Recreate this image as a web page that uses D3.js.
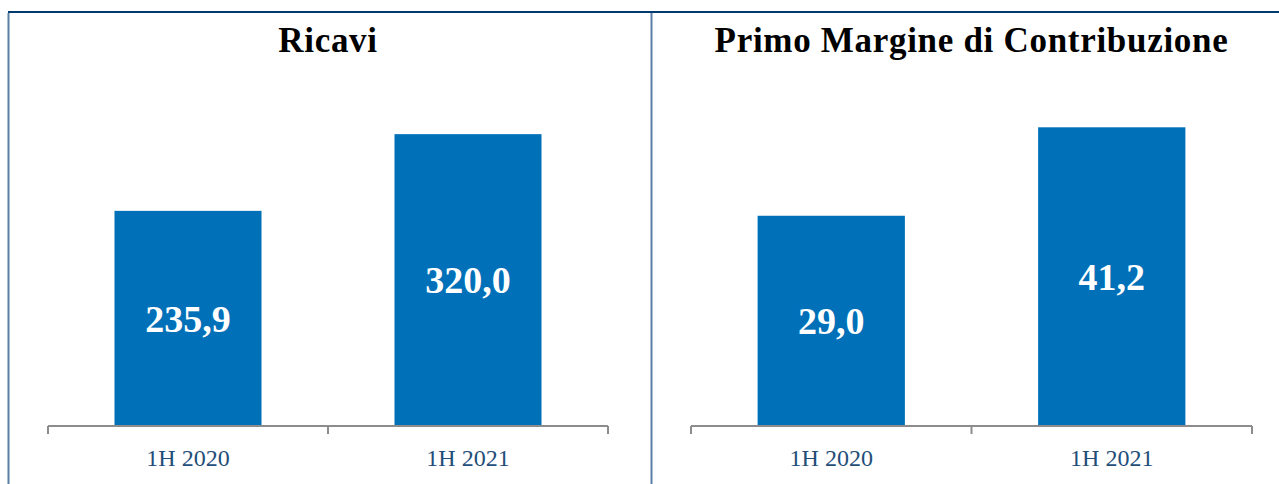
<!DOCTYPE html>
<html>
<head>
<meta charset="utf-8">
<script src="https://cdn.jsdelivr.net/npm/d3@7"></script>
<style>
  html, body { margin: 0; padding: 0; background: #fff; }
  svg { display: block; }
</style>
</head>
<body>
<div id="chart"></div>
<script>
// chart data
const categories = ["1H 2020", "1H 2021"];
const ricaviValues = [235.9, 320.0];
const margineValues = [29.0, 41.2];
const panelTitles = ["Ricavi", "Primo Margine di Contribuzione"];

const W = 1279, H = 484;
const barColor = "#0070b8";
const fmt = v => v.toFixed(1).replace(".", ",");

const svg = d3.select("#chart").append("svg")
  .attr("width", W)
  .attr("height", H);

// frame lines
svg.append("line")
  .attr("x1", 8).attr("x2", W).attr("y1", 12).attr("y2", 12)
  .attr("stroke", "#003b6f").attr("stroke-width", 2);
[8.5, 651.5].forEach(x => {
  svg.append("line")
    .attr("x1", x).attr("x2", x).attr("y1", 13).attr("y2", H)
    .attr("stroke", "#5a80a6").attr("stroke-width", 2);
});

// one panel per metric
const panels = [
  { title: panelTitles[0], values: ricaviValues, max: 350, x0: 48, x1: 608 },
  { title: panelTitles[1], values: margineValues, max: 45, x0: 691, x1: 1252 }
];

const baseY = 426;

panels.forEach(p => {
  const g = svg.append("g");

  const x = d3.scaleBand()
    .domain(categories)
    .range([p.x0, p.x1])
    .paddingInner(0.475)
    .paddingOuter(0.2375);

  // same pixel per unit as the reference
  const y = d3.scaleLinear()
    .domain([0, p.max])
    .range([baseY, baseY - p.max * (p.max > 100 ? 0.912 : 7.25)]);

  const data = categories.map((c, i) => ({ cat: c, value: p.values[i] }));

  // title
  g.append("text")
    .attr("x", (p.x0 + p.x1) / 2)
    .attr("y", 52)
    .attr("text-anchor", "middle")
    .attr("font-family", "'Liberation Serif', 'DejaVu Serif', serif")
    .attr("font-weight", "bold")
    .attr("font-size", 35)
    .attr("letter-spacing", 0.7)
    .attr("fill", "#000")
    .text(p.title);

  // bars
  g.selectAll("rect.bar")
    .data(data)
    .enter()
    .append("rect")
    .attr("class", "bar")
    .attr("x", d => x(d.cat))
    .attr("y", d => y(d.value))
    .attr("width", x.bandwidth())
    .attr("height", d => y(0) - y(d.value))
    .attr("fill", barColor);

  // value labels centred in the bars
  g.selectAll("text.val")
    .data(data)
    .enter()
    .append("text")
    .attr("class", "val")
    .attr("x", d => x(d.cat) + x.bandwidth() / 2)
    .attr("y", d => (y(d.value) + y(0)) / 2)
    .attr("dy", "0.35em")
    .attr("text-anchor", "middle")
    .attr("font-family", "'Liberation Serif', 'DejaVu Serif', serif")
    .attr("font-weight", "bold")
    .attr("font-size", 38)
    .attr("fill", "#fff")
    .text(d => fmt(d.value));

  // category axis: baseline with ticks at band edges
  const step = x.step();
  const edges = categories.map(c => x(c) - step * x.paddingInner() / 2);
  edges.push(p.x1);

  g.append("line")
    .attr("x1", p.x0).attr("x2", p.x1)
    .attr("y1", baseY).attr("y2", baseY)
    .attr("stroke", "#8c8c8c").attr("stroke-width", 2);

  g.selectAll("line.tick")
    .data(edges)
    .enter()
    .append("line")
    .attr("class", "tick")
    .attr("x1", d => d).attr("x2", d => d)
    .attr("y1", baseY).attr("y2", baseY + 8)
    .attr("stroke", "#8c8c8c").attr("stroke-width", 2);

  g.selectAll("text.cat")
    .data(categories)
    .enter()
    .append("text")
    .attr("class", "cat")
    .attr("x", d => x(d) + x.bandwidth() / 2)
    .attr("y", 466)
    .attr("text-anchor", "middle")
    .attr("font-family", "'Liberation Serif', 'DejaVu Serif', serif")
    .attr("font-size", 24)
    .attr("fill", "#1f4e79")
    .text(d => d);
});
</script>
</body>
</html>
